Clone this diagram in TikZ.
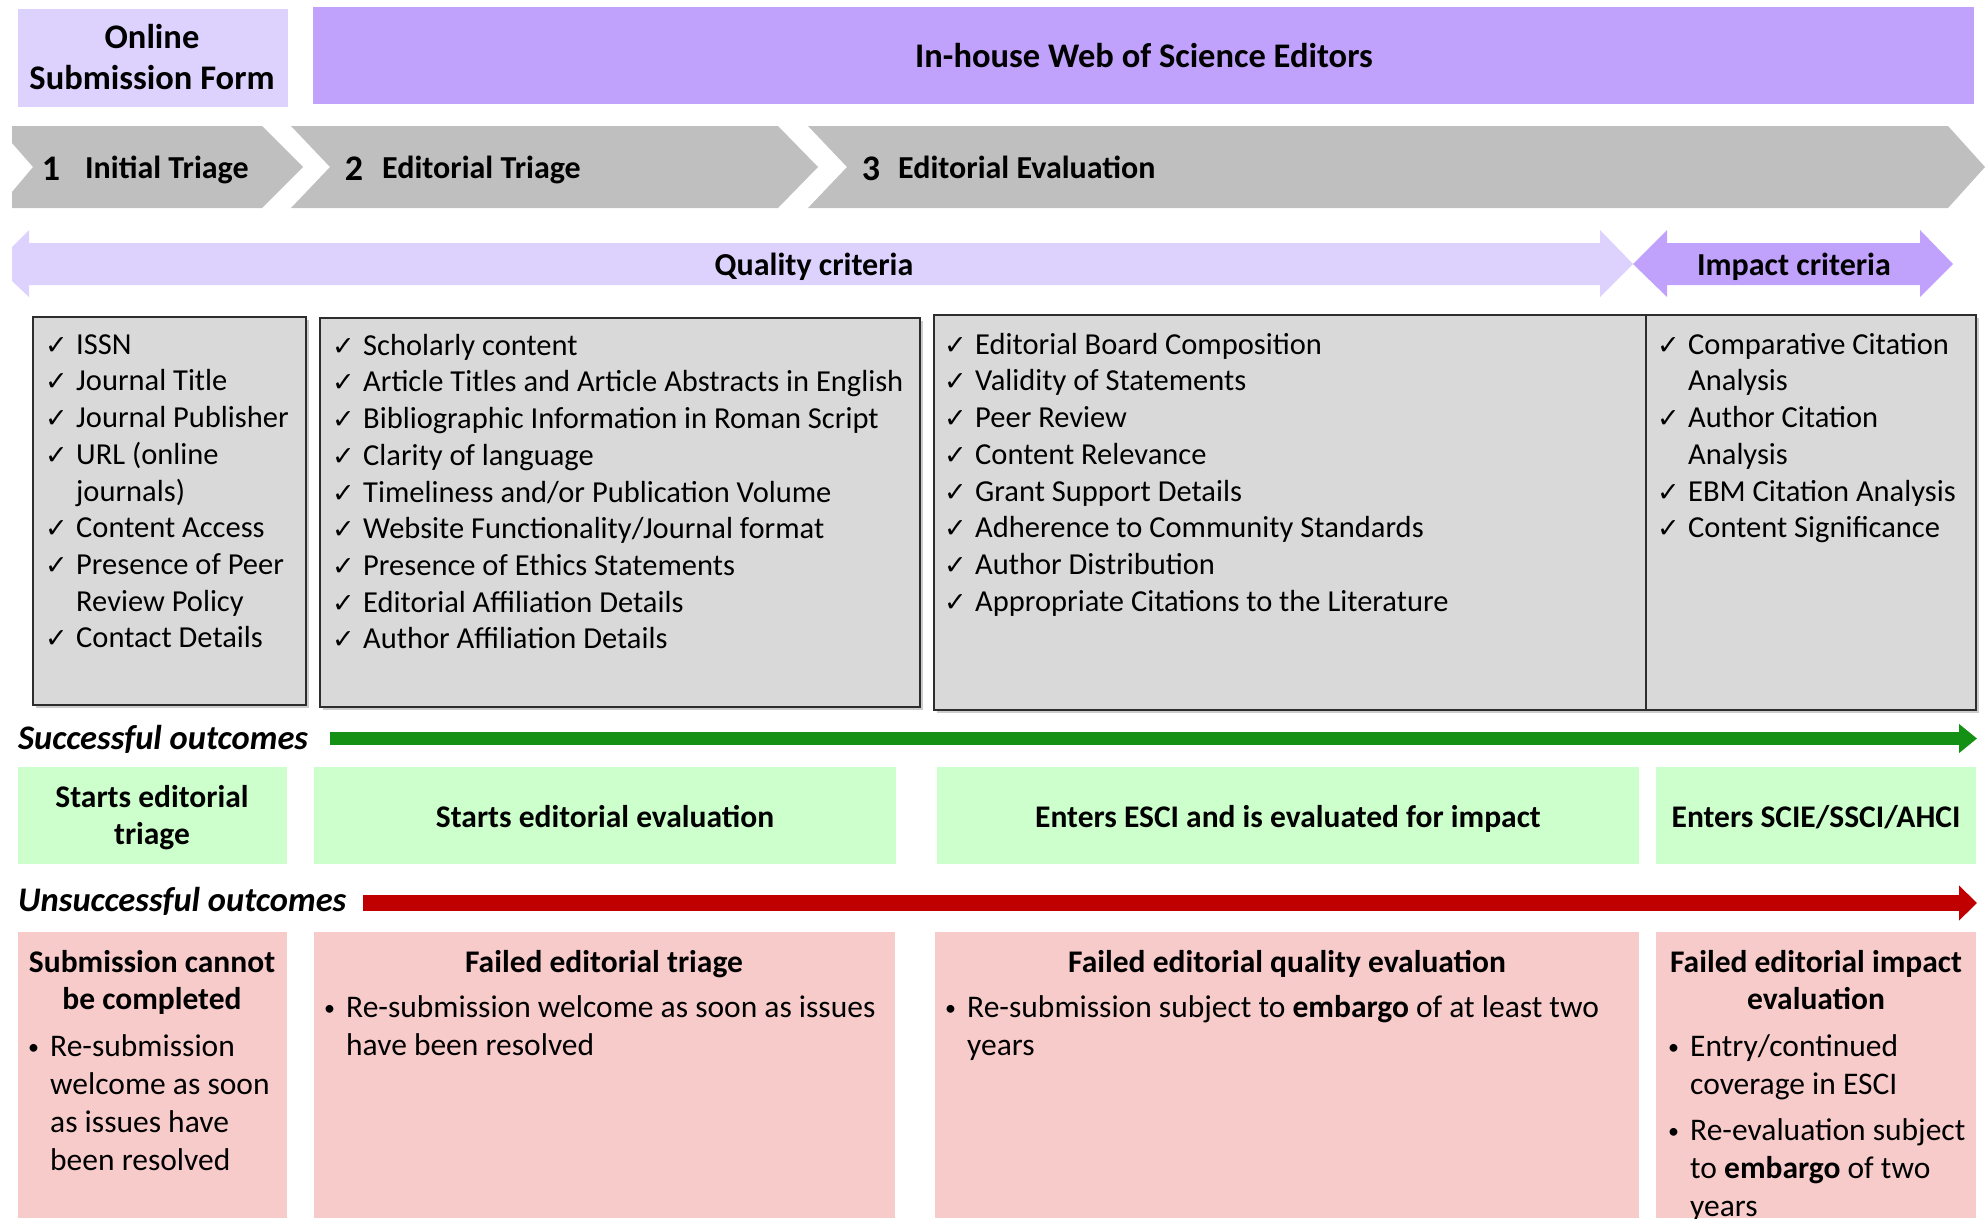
\documentclass[tikz,border=0pt]{standalone}
\usepackage{fontspec}
\setmainfont{Carlito}
\newfontfamily\symfont{DejaVu Sans}
\usetikzlibrary{arrows.meta}

\definecolor{lavlight}{RGB}{221,210,253}
\definecolor{lavdark}{RGB}{192,161,252}
\definecolor{chevgrey}{RGB}{191,191,191}
\definecolor{boxgrey}{RGB}{217,217,217}
\definecolor{boxline}{RGB}{45,45,45}
\definecolor{okfill}{RGB}{204,255,204}
\definecolor{okline}{RGB}{20,145,20}
\definecolor{badfill}{RGB}{248,203,203}
\definecolor{badline}{RGB}{192,0,0}

\newcommand\tp{\rule{0pt}{26pt}}
\newcommand\ck{\makebox[31pt][l]{\symfont\fontsize{27}{27}\selectfont ✓}}
\newcommand\ci{\hspace*{31pt}}
\newcommand\bu{\makebox[22pt][l]{\raisebox{2pt}{\fontsize{22}{22}\selectfont\textbullet}}}
\newcommand\bi{\hspace*{22pt}}

\tikzset{
  txt/.style={inner sep=0pt},
  head/.style={txt, align=center, font=\fontsize{34.5}{41}\selectfont\bfseries},
  stage/.style={txt, anchor=base west, font=\fontsize{32}{38}\selectfont\bfseries},
  stagenum/.style={txt, anchor=base, font=\fontsize{36}{40}\selectfont\bfseries},
  crit/.style={txt, anchor=base, font=\fontsize{32}{38}\selectfont\bfseries},
  chklist/.style={txt, anchor=north west, align=left, font=\fontsize{30.5}{36.7}\selectfont},
  chkbox/.style={fill=boxgrey, draw=boxline, line width=2.5pt},
  outcome/.style={txt, anchor=base west, font=\fontsize{34.5}{40}\selectfont\bfseries\itshape},
  res/.style={txt, align=center, font=\fontsize{31.5}{37.5}\selectfont\bfseries},
  bullets/.style={txt, anchor=north west, align=left, font=\fontsize{31.5}{38}\selectfont}
}

\begin{document}
\begin{tikzpicture}[x=1pt, y=-1pt]
  \useasboundingbox (0,0) rectangle (1985,1218);
  \clip (0,0) rectangle (1985,1218);

  % who does it
  \fill[lavlight] (18,9) rectangle (288,107);
  \fill[lavdark] (313,7) rectangle (1974,104);
  \node[head, anchor=north] (online) at (152,22) {\tp Online\\Submission Form};
  \node[head, anchor=base] (editors) at (1144,67) {In-house Web of Science Editors};

  % stages
  \fill[chevgrey] (12,126) -- (262,126) -- (303,167) -- (262,208) -- (12,208) -- (12,192) -- (33,167) -- (12,143) -- cycle;
  \fill[chevgrey] (291,126) -- (778,126) -- (818,167) -- (778,208) -- (291,208) -- (330,167) -- cycle;
  \fill[chevgrey] (808,126) -- (1948,126) -- (1985,167) -- (1948,208) -- (808,208) -- (847,167) -- cycle;
  \node[stagenum] (n1) at (51,180) {1};
  \node[stage] (s1) at (85,178) {Initial Triage};
  \node[stagenum] (n2) at (354,180) {2};
  \node[stage] (s2) at (382,178) {Editorial Triage};
  \node[stagenum] (n3) at (871,180) {3};
  \node[stage] (s3) at (898,178) {Editorial Evaluation};

  % criteria
  \fill[lavlight] (12,247) -- (29,230) -- (29,243) -- (1600,243) -- (1600,230) -- (1633,264) -- (1600,297) -- (1600,285) -- (29,285) -- (29,297) -- (12,281) -- cycle;
  \fill[lavdark] (1633,264) -- (1667,230) -- (1667,243) -- (1920,243) -- (1920,230) -- (1953,264) -- (1920,297) -- (1920,285) -- (1667,285) -- (1667,297) -- cycle;
  \node[crit] (quality) at (814,275) {Quality criteria};
  \node[crit] (impact) at (1794,275) {Impact criteria};

  % checklists
  \fill[black!20] (36,320) rectangle (309,708);
  \fill[black!20] (323,321) rectangle (923,710);
  \fill[black!20] (937,318) rectangle (1979,713);
  \draw[chkbox] (33,317) rectangle (306,705);
  \draw[chkbox] (320,318) rectangle (920,707);
  \draw[chkbox] (934,315) rectangle (1976,710);
  \draw[boxline, line width=2.5pt] (1646,315) -- (1646,710);
  \node[chklist] (chk1) at (45,328) {\tp\ck ISSN\\
    \ck Journal Title\\
    \ck Journal Publisher\\
    \ck URL (online\\
    \ci journals)\\
    \ck Content Access\\
    \ck Presence of Peer\\
    \ci Review Policy\\
    \ck Contact Details};
  \node[chklist] (chk2) at (332,329) {\tp\ck Scholarly content\\
    \ck Article Titles and Article Abstracts in English\\
    \ck Bibliographic Information in Roman Script\\
    \ck Clarity of language\\
    \ck Timeliness and/or Publication Volume\\
    \ck Website Functionality/Journal format\\
    \ck Presence of Ethics Statements\\
    \ck Editorial Affiliation Details\\
    \ck Author Affiliation Details};
  \node[chklist] (chk3) at (944,328) {\tp\ck Editorial Board Composition\\
    \ck Validity of Statements\\
    \ck Peer Review\\
    \ck Content Relevance\\
    \ck Grant Support Details\\
    \ck Adherence to Community Standards\\
    \ck Author Distribution\\
    \ck Appropriate Citations to the Literature};
  \node[chklist] (chk4) at (1657,328) {\tp\ck Comparative Citation\\
    \ci Analysis\\
    \ck Author Citation\\
    \ci Analysis\\
    \ck EBM Citation Analysis\\
    \ck Content Significance};

  % successful outcomes
  \node[outcome] (oklabel) at (18,749) {Successful outcomes};
  \coordinate (okstart) at (330,738.5);
  \coordinate (okend) at (1977,738.5);
  \draw[okline, line width=13pt, -{Triangle[length=18pt, width=28pt]}] (okstart) -- (okend);
  \fill[okfill] (18,767) rectangle (287,864);
  \fill[okfill] (314,767) rectangle (896,864);
  \fill[okfill] (937,767) rectangle (1639,864);
  \fill[okfill] (1656,767) rectangle (1976,864);
  \node[res, anchor=north] (ok1) at (152,781) {\tp Starts editorial\\triage};
  \node[res, anchor=base] (ok2) at (605,827) {Starts editorial evaluation};
  \node[res, anchor=base] (ok3) at (1288,827) {Enters ESCI and is evaluated for impact};
  \node[res, anchor=base] (ok4) at (1816,827) {Enters SCIE/SSCI/AHCI};

  % unsuccessful outcomes
  \node[outcome] (badlabel) at (18,911) {Unsuccessful outcomes};
  \coordinate (badstart) at (363,903);
  \coordinate (badend) at (1977,903);
  \draw[badline, line width=16pt, -{Triangle[length=18pt, width=34pt]}] (badstart) -- (badend);
  \fill[badfill] (18,932) rectangle (287,1218);
  \fill[badfill] (314,932) rectangle (895,1218);
  \fill[badfill] (935,932) rectangle (1639,1218);
  \fill[badfill] (1656,932) rectangle (1976,1218);
  \node[res, anchor=north] (bad1) at (152,946) {\tp Submission cannot\\be completed};
  \node[bullets] (bad1b) at (28,1030) {\tp\bu Re-submission\\\bi welcome as soon\\\bi as issues have\\\bi been resolved};
  \node[res, anchor=base] (bad2) at (604,972) {Failed editorial triage};
  \node[bullets] (bad2b) at (324,991) {\tp\bu Re-submission welcome as soon as issues\\\bi have been resolved};
  \node[res, anchor=base] (bad3) at (1287,972) {Failed editorial quality evaluation};
  \node[bullets] (bad3b) at (945,991) {\tp\bu Re-submission subject to \textbf{embargo} of at least two\\\bi years};
  \node[res, anchor=north] (bad4) at (1816,946) {\tp Failed editorial impact\\evaluation};
  \node[bullets] (bad4b) at (1668,1030) {\tp\bu Entry/continued\\\bi coverage in ESCI};
  \node[bullets] (bad4c) at (1668,1114) {\tp\bu Re-evaluation subject\\\bi to \textbf{embargo} of two\\\bi years};
\end{tikzpicture}
\end{document}
